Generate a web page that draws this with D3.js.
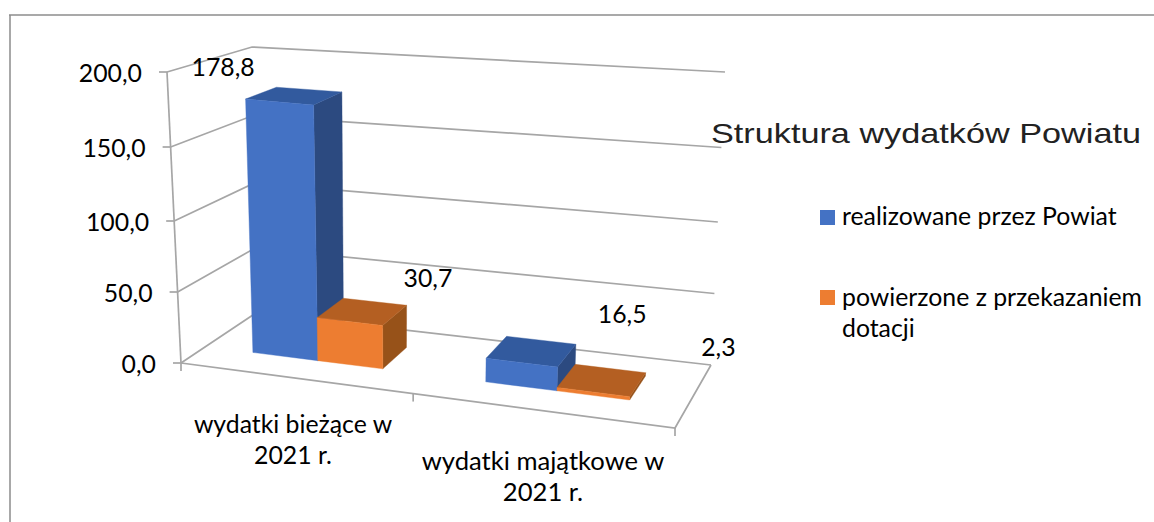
<!DOCTYPE html>
<html><head><meta charset="utf-8">
<script src="https://cdn.jsdelivr.net/npm/d3@7"></script>
<style>html,body{margin:0;padding:0;background:#fff}svg{display:block}text{fill:#000}</style>
</head><body><svg id="c" width="1154" height="522"></svg>
<script>
const categories = ["wydatki bieżące w 2021 r.", "wydatki majątkowe w 2021 r."];
const categoryLines = [["wydatki bieżące w", "2021 r."], ["wydatki majątkowe w", "2021 r."]];
const seriesNames = ["realizowane przez Powiat", "powierzone z przekazaniem dotacji"];
const realizowane = [178.8, 16.5];
const powierzone = [30.7, 2.3];
const valueLabels = [["178,8", "16,5"], ["30,7", "2,3"]];
const yTicks = [0, 50, 100, 150, 200];
const yTickLabels = ["0,0", "50,0", "100,0", "150,0", "200,0"];
const title = "Struktura wydatków Powiatu";

const W = 1154, H = 522;
const svg = d3.select("#c");
const series = [realizowane, powierzone];

// 3D box corners of the plot on screen
const corners = {
  FL0: [181, 363], FR0: [675, 428], BL0: [256, 313], BR0: [711, 365],
  FL1: [167, 72], FR1: [690, 123], BL1: [252, 47], BR1: [725, 72]
};
const valueT = d3.scaleLinear().domain(yTicks).range([0, 71 / 291, 142 / 291, 216 / 291, 1]);
const warpU = d3.scaleLinear()
  .domain([0, .105, .25, .395, .5, .605, .75, .895, 1])
  .range([0, .098, .233, .368, .47, .582, .73, .881, 1]);
const band = d3.scaleBand().domain(d3.range(categories.length)).range([0, 1]).paddingInner(.42).paddingOuter(.21);
const inner = d3.scaleBand().domain(d3.range(series.length)).range([0, band.bandwidth()]);
const depth0 = .33, depth1 = .72;

function project(u, d, v) {
  const U = warpU(u), t = valueT(v);
  const mix = (a, b, k) => [a[0] + (b[0] - a[0]) * k, a[1] + (b[1] - a[1]) * k];
  const at = (FL, FR, BL, BR) => mix(mix(FL, FR, U), mix(BL, BR, U), d);
  return mix(at(corners.FL0, corners.FR0, corners.BL0, corners.BR0),
             at(corners.FL1, corners.FR1, corners.BL1, corners.BR1), t);
}
const line = d3.line();
const gridColor = "#a6a6a6";

// outer frame
svg.append("path").attr("d", line([[10, H], [10, 15]])).attr("stroke", "#a8a8a8").attr("stroke-width", 2).attr("fill", "none");
svg.append("path").attr("d", line([[9, 15], [W, 15]])).attr("stroke", "#8c8c8c").attr("stroke-width", 1.6).attr("fill", "none");

// walls and gridlines
const grid = svg.append("g").attr("fill", "none").attr("stroke", gridColor).attr("stroke-width", 1.7);
yTicks.forEach(v => {
  grid.append("path").attr("d", line([project(0, 0, v), project(0, 1, v), project(1, 1, v)]));
  const p = project(0, 0, v);
  grid.append("path").attr("d", line([p, [p[0] - 8, p[1]]]));
});
grid.append("path").attr("d", line([project(0, 0, 0), project(0, 0, 200)]));
grid.append("path").attr("d", line([project(0, 0, 0), project(1, 0, 0), project(1, 1, 0)]));
[0, .5, 1].forEach(u => {
  const p = project(u, 0, 0);
  grid.append("path").attr("d", line([p, [p[0], p[1] + 8]]));
});

// bars
const colors = [
  {front: "#4472c4", top: "#325a9e", side: "#2c4a80"},
  {front: "#ed7d31", top: "#b45f22", side: "#975219"}
];
const bars = svg.append("g");
categories.forEach((c, i) => {
  series.forEach((s, k) => {
    const u0 = band(i) + inner(k), u1 = u0 + inner.bandwidth(), v = s[i], col = colors[k];
    const face = (pts, fill) => bars.append("path").attr("d", line(pts) + "Z").attr("fill", fill).attr("stroke", fill).attr("stroke-width", .4);
    face([project(u1, depth0, 0), project(u1, depth1, 0), project(u1, depth1, v), project(u1, depth0, v)], col.side);
    face([project(u0, depth0, v), project(u1, depth0, v), project(u1, depth1, v), project(u0, depth1, v)], col.top);
    face([project(u0, depth0, 0), project(u1, depth0, 0), project(u1, depth0, v), project(u0, depth0, v)], col.front);
  });
});

const labelFont = "Lato, 'Open Sans', sans-serif";
const txt = svg.append("g").attr("font-family", labelFont).attr("font-size", 24.8);

// y tick labels
yTicks.forEach((v, i) => {
  const p = project(0, 0, v);
  txt.append("text").attr("x", p[0] - 25).attr("y", p[1] + 10).attr("text-anchor", "end").text(yTickLabels[i]);
});

// value labels, placed relative to the top of each bar
const labelOffset = [[[-86, -14], [81, -17]], [[53, -15], [108, -13]]];
categories.forEach((c, i) => series.forEach((s, k) => {
  const p = project(band(i) + inner(k) + inner.bandwidth() / 2, depth1, s[i]);
  const o = labelOffset[k][i];
  txt.append("text").attr("x", p[0] + o[0]).attr("y", p[1] + o[1]).attr("text-anchor", "middle").text(valueLabels[k][i]);
}));

// category labels
const catX = [293, 543], catY = [433, 470], catSize = [24.8, 25.6];
categoryLines.forEach((ls, i) => ls.forEach((l, j) => {
  txt.append("text").attr("x", catX[i]).attr("y", catY[i] + j * 31).attr("font-size", catSize[i]).attr("text-anchor", "middle").text(l);
}));

// title
svg.append("text").attr("x", 711).attr("y", 143).attr("font-family", "'Liberation Sans', Arial, sans-serif")
  .attr("font-size", 28).attr("textLength", 430).attr("lengthAdjust", "spacingAndGlyphs").style("fill", "#222").text(title);

// legend
const legendRows = [{y: 210, lines: ["realizowane przez Powiat"]}, {y: 290, lines: ["powierzone z przekazaniem", "dotacji"]}];
legendRows.forEach((r, k) => {
  svg.append("rect").attr("x", 820).attr("y", r.y).attr("width", 15).attr("height", 15).attr("fill", colors[k].front);
  r.lines.forEach((l, j) => txt.append("text").attr("x", 842).attr("y", r.y + 15 + (k ? 1 : 0) + j * 31).text(l));
});
</script></body></html>
